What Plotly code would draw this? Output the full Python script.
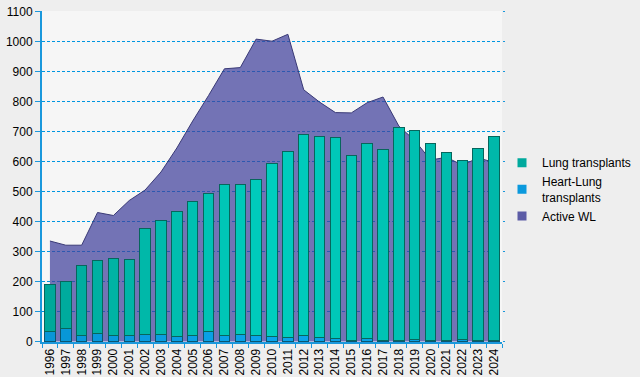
import plotly.graph_objects as go

years = [str(y) for y in range(1996, 2025)]
total_tx = [189, 200, 253, 270, 277, 273, 377, 403, 433, 467, 495, 525, 525, 539, 592, 635,
            689, 685, 679, 619, 659, 639, 714, 705, 659, 629, 602, 642, 685]
heart_lung = [33, 44, 20, 27, 20, 20, 23, 23, 17, 20, 33, 20, 23, 20, 17, 13,
              20, 13, 10, 3, 10, 3, 3, 7, 3, 3, 7, 3, 3]
active_wl = [335, 321, 321, 430, 420, 470, 505, 565, 645, 735, 820, 909, 913, 1008, 1001, 1024,
             839, 798, 763, 762, 796, 815, 718, 670, 605, 614, 588, 612, 597]
lung = [t - h for t, h in zip(total_tx, heart_lung)]


def grad(n, c0, c1, c2):
    out = []
    for i in range(n):
        t = i / (n - 1)
        if t < 0.5:
            a, b, u = c0, c1, t / 0.5
        else:
            a, b, u = c1, c2, (t - 0.5) / 0.5
        out.append("rgb(%d,%d,%d)" % tuple(round(a[k] + (b[k] - a[k]) * u) for k in range(3)))
    return out


lung_colors = grad(len(years), (0, 168, 154), (0, 206, 190), (0, 184, 170))
hl_colors = grad(len(years), (8, 150, 215), (10, 165, 235), (8, 155, 222))

# half-pixel padding so 1px gridlines fall on whole pixel rows
yrange = [-1.667, 1101.667]

fig = go.Figure()
fig.add_trace(go.Scatter(
    x=years, y=active_wl, mode="lines", fill="tozeroy", showlegend=False,
    line=dict(color="#3A3A76", width=1), fillcolor="rgba(64,64,155,0.72)",
    hoverinfo="skip",
))
fig.add_trace(go.Bar(
    x=years, y=heart_lung, showlegend=False, xaxis="x2", yaxis="y2",
    marker=dict(color=hl_colors, line=dict(color="#0B5570", width=1)),
))
fig.add_trace(go.Bar(
    x=years, y=lung, showlegend=False, xaxis="x2", yaxis="y2",
    marker=dict(color=lung_colors, line=dict(color="#07665C", width=1)),
))
# legend swatches
for nm, col in [("Lung transplants", "#00A99D"),
                ("Heart-Lung<br>transplants", "#0A99DD"),
                ("Active WL", "#5C5CA6")]:
    fig.add_trace(go.Scatter(
        x=[None], y=[None], name=nm, mode="markers",
        marker=dict(symbol="square", size=9, color=col, line=dict(width=0)),
    ))

fig.update_layout(
    width=640, height=377,
    margin=dict(l=42, r=138, t=11, b=35, autoexpand=False),
    paper_bgcolor="#EEEEEE", plot_bgcolor="#F6F6F6",
    barmode="stack", bargap=0.34,
    font=dict(family="Liberation Sans, Arial, sans-serif", size=12, color="#000000"),
    showlegend=True,
    legend=dict(x=1.0, y=0.46, xanchor="left", yanchor="middle",
                bgcolor="rgba(0,0,0,0)", traceorder="normal",
                font=dict(size=12), itemwidth=30),
    xaxis=dict(
        type="category", showline=True, linecolor="#1A98DC", linewidth=2, tickangle=-90,
        ticks="outside", ticklen=4, tickcolor="#1A98DC", tickson="boundaries",
        showgrid=False, tickfont=dict(size=12), automargin=False, zeroline=False,
        categoryorder="array", categoryarray=years,
    ),
    yaxis=dict(
        range=yrange, tickvals=list(range(0, 1101, 100)), showgrid=True,
        gridcolor="rgb(0,150,225)", griddash="3px,2px", gridwidth=1,
        showline=True, linecolor="#1A98DC", linewidth=2,
        ticks="outside", ticklen=5, tickcolor="#1A98DC", zeroline=False,
        tickfont=dict(size=12), automargin=False,
    ),
    xaxis2=dict(type="category", overlaying="x", matches="x", visible=False, showgrid=False,
                categoryorder="array", categoryarray=years),
    yaxis2=dict(overlaying="y", side="right", range=yrange,
                tickvals=list(range(0, 1101, 100)),
                showgrid=False, showline=False, zeroline=False, showticklabels=False,
                ticks="outside", ticklen=2, tickcolor="#1A98DC", automargin=False),
)

fig.write_html("out.html", config={"displayModeBar": False},
               post_script="document.body.style.margin='0px';")
